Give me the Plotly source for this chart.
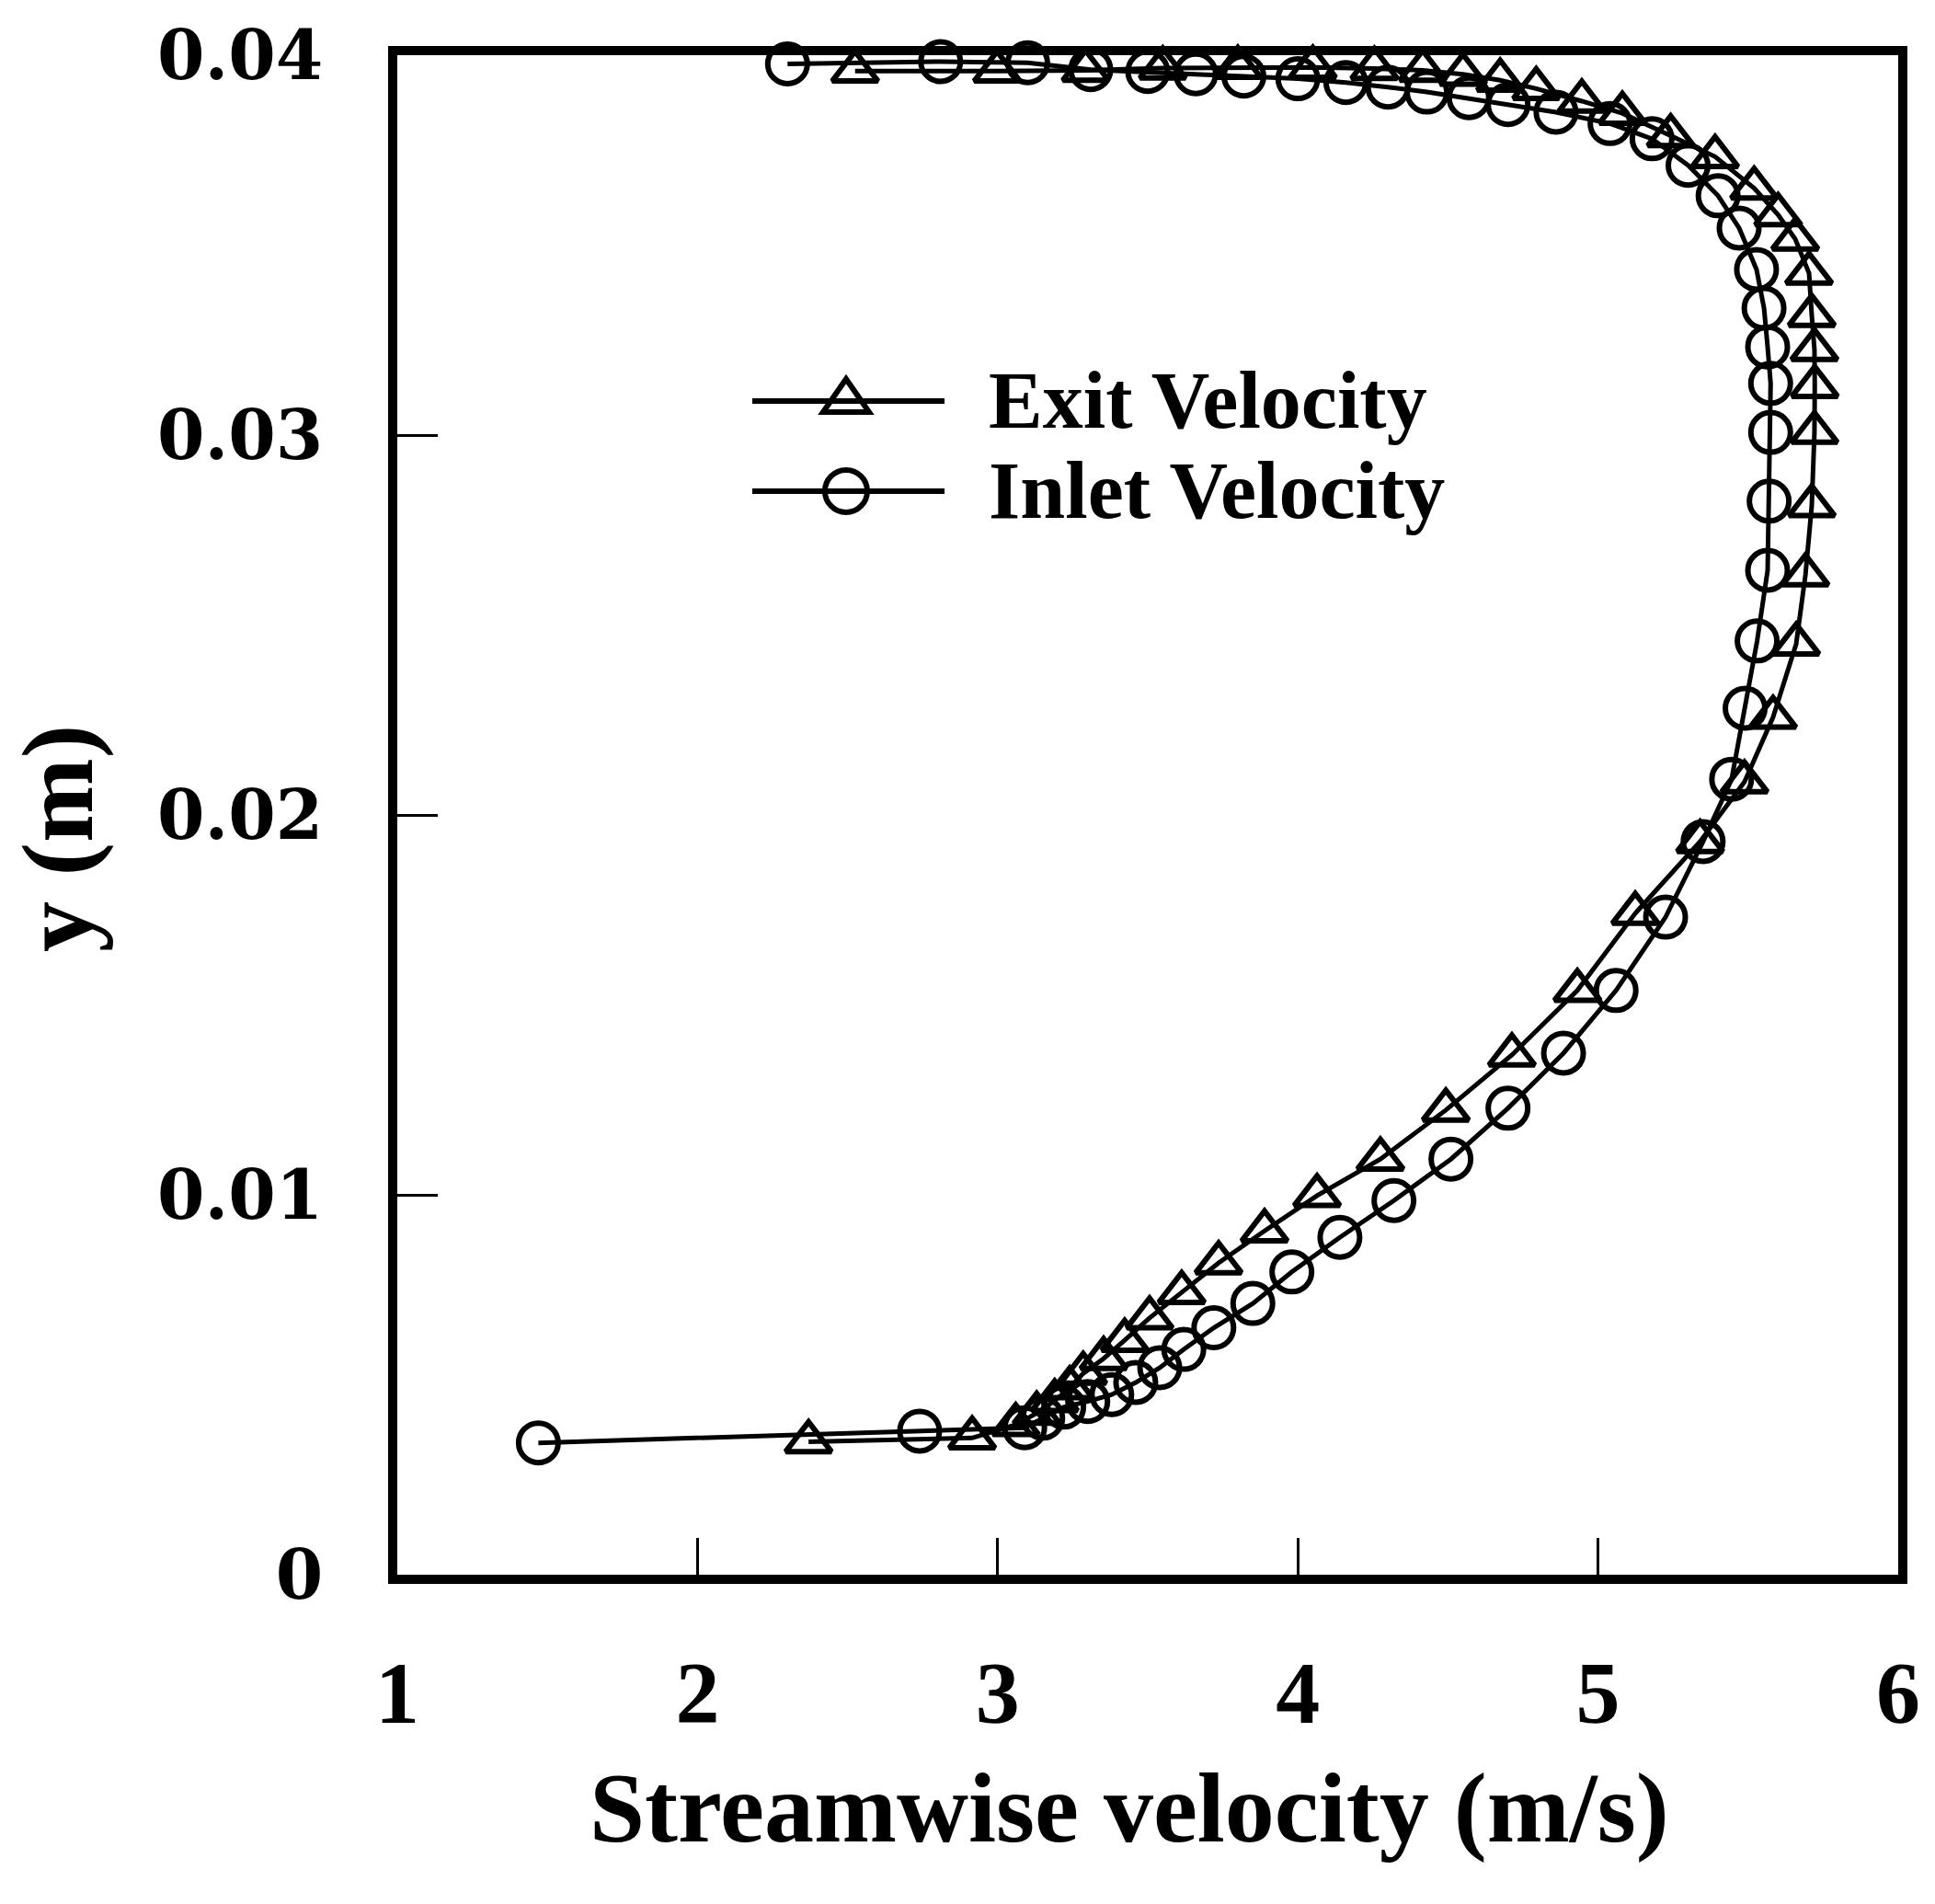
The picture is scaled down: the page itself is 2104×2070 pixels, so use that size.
import plotly.graph_objects as go

# Streamwise velocity profiles across the channel height
exit_u = [2.37, 2.915, 3.06, 3.13, 3.19, 3.24, 3.285, 3.353, 3.423, 3.506, 3.613, 3.736,
          3.889, 4.064, 4.275, 4.493, 4.713, 4.931, 5.124, 5.34, 5.488, 5.583, 5.660,
          5.691, 5.712, 5.721, 5.722, 5.721, 5.712, 5.703, 5.657, 5.60, 5.52, 5.39,
          5.242, 5.081, 4.946, 4.794, 4.674, 4.55, 4.416, 4.255, 4.05, 3.80, 3.55,
          3.293, 2.998, 2.525]
exit_y = [0.00350, 0.00360, 0.00395, 0.00425, 0.00458, 0.00492, 0.00530, 0.00569,
          0.00617, 0.00676, 0.00743, 0.00821, 0.00905, 0.00998, 0.01094, 0.01223,
          0.01368, 0.01538, 0.01741, 0.01930, 0.02087, 0.02257, 0.02450, 0.02632,
          0.02814, 0.03007, 0.03128, 0.03225, 0.03315, 0.03426, 0.03516, 0.03580,
          0.03650, 0.03733, 0.03788, 0.03847, 0.03879, 0.03912, 0.03934, 0.03950,
          0.03960, 0.03965, 0.03968, 0.03968, 0.03966, 0.03960, 0.03958, 0.03958]

inlet_u = [1.47, 2.74, 3.09, 3.15, 3.22, 3.30, 3.38, 3.46, 3.54, 3.62, 3.72, 3.85, 3.98,
           4.14, 4.32, 4.51, 4.70, 4.885, 5.06, 5.225, 5.35, 5.445, 5.49, 5.53, 5.565,
           5.57, 5.575, 5.575, 5.565, 5.553, 5.528, 5.47, 5.40, 5.30, 5.18, 5.04, 4.86,
           4.70, 4.57, 4.43, 4.30, 4.16, 4.00, 3.82, 3.66, 3.50, 3.31, 3.10, 2.81, 2.30]
inlet_y = [0.00347, 0.00378, 0.00387, 0.00412, 0.00441, 0.00456, 0.00474, 0.00506,
           0.00545, 0.00593, 0.00650, 0.00714, 0.00797, 0.00888, 0.00985, 0.01094,
           0.01228, 0.01373, 0.01538, 0.01731, 0.01930, 0.02094, 0.02281, 0.02458,
           0.02644, 0.02826, 0.03007, 0.03136, 0.03232, 0.03334, 0.03436, 0.03545,
           0.03630, 0.03710, 0.03780, 0.03820, 0.03850, 0.03870, 0.03888, 0.03903,
           0.03916, 0.03928, 0.03938, 0.03945, 0.03951, 0.03957, 0.03962, 0.03980,
           0.03983, 0.03977]

x_ticks = [1, 2, 3, 4, 5, 6]
y_ticks = [0, 0.01, 0.02, 0.03, 0.04]
y_tick_text = ["0", "0.01", "0.02", "0.03", "0.04"]

series_names = ["Exit Velocity", "Inlet Velocity"]

SERIF = "Liberation Serif"
MARK = 43
LINE_W = 5
EDGE_W = 6

fig = go.Figure()
fig.add_trace(go.Scatter(
    x=exit_u, y=exit_y, mode="lines+markers", name=series_names[0],
    line=dict(color="black", width=LINE_W),
    marker=dict(symbol="triangle-up-open", size=MARK, color="black", line=dict(width=EDGE_W)),
    cliponaxis=False, showlegend=False))
fig.add_trace(go.Scatter(
    x=inlet_u, y=inlet_y, mode="lines+markers", name=series_names[1],
    line=dict(color="black", width=LINE_W),
    marker=dict(symbol="circle-open", size=MARK, color="black", line=dict(width=EDGE_W)),
    cliponaxis=False, showlegend=False))

# Hand-drawn style legend inside the plot area
leg_x0, leg_x1, leg_mx, leg_tx = 0.2365, 0.3646, 0.299, 0.3928
leg_rows = [0.7724, 0.7131]
shapes = []
annotations = []
for i, (name, ly) in enumerate(zip(series_names, leg_rows)):
    shapes.append(dict(type="line", xref="paper", yref="paper", x0=leg_x0, x1=leg_x1,
                       y0=ly, y1=ly, line=dict(color="black", width=LINE_W + 1)))
    if i == 0:
        shapes.append(dict(type="path", xref="paper", yref="paper",
                           xsizemode="pixel", ysizemode="pixel", xanchor=leg_mx, yanchor=ly,
                           path="M-25,-12 L25,-12 L0,24 Z",
                           line=dict(color="black", width=EDGE_W), fillcolor="rgba(0,0,0,0)"))
    else:
        shapes.append(dict(type="circle", xref="paper", yref="paper",
                           xsizemode="pixel", ysizemode="pixel", xanchor=leg_mx, yanchor=ly,
                           x0=-23, x1=23, y0=-23, y1=23,
                           line=dict(color="black", width=EDGE_W), fillcolor="rgba(0,0,0,0)"))
    annotations.append(dict(text=name, xref="paper", yref="paper", x=leg_tx, y=ly,
                            xanchor="left", yanchor="middle", showarrow=False,
                            font=dict(family=SERIF, size=88, color="black", weight="bold")))

# Axis titles
annotations.append(dict(text="Streamwise velocity (m/s)", xref="paper", yref="paper",
                        x=0.488, y=-0.1538, xanchor="center", yanchor="middle",
                        showarrow=False,
                        font=dict(family=SERIF, size=108, color="black", weight="bold")))
annotations.append(dict(text="y (m)", xref="paper", yref="paper",
                        x=-0.226, y=0.4843, xanchor="center", yanchor="middle",
                        textangle=-90, showarrow=False,
                        font=dict(family=SERIF, size=110, color="black", weight="bold")))

fig.update_layout(
    width=2104, height=2070,
    margin=dict(l=432, r=40, t=60, b=358),
    paper_bgcolor="white", plot_bgcolor="white",
    shapes=shapes, annotations=annotations,
    xaxis=dict(range=[1, 6], tickvals=x_ticks, ticks="inside", ticklen=40, tickwidth=3,
               tickcolor="black", showline=True, linewidth=10, linecolor="black",
               mirror=True, showgrid=False, zeroline=False, ticklabelstandoff=36,
               tickfont=dict(family=SERIF, size=96, color="black", weight="bold")),
    yaxis=dict(range=[0, 0.04], tickvals=y_ticks, ticktext=y_tick_text, ticks="inside",
               ticklen=44, tickwidth=3, tickcolor="black", showline=True, linewidth=10,
               linecolor="black", mirror=True, showgrid=False, zeroline=False,
               ticklabelstandoff=56,
               tickfont=dict(family="DejaVu Serif", size=74, color="black", weight="bold")),
)

fig.write_html("out.html")
